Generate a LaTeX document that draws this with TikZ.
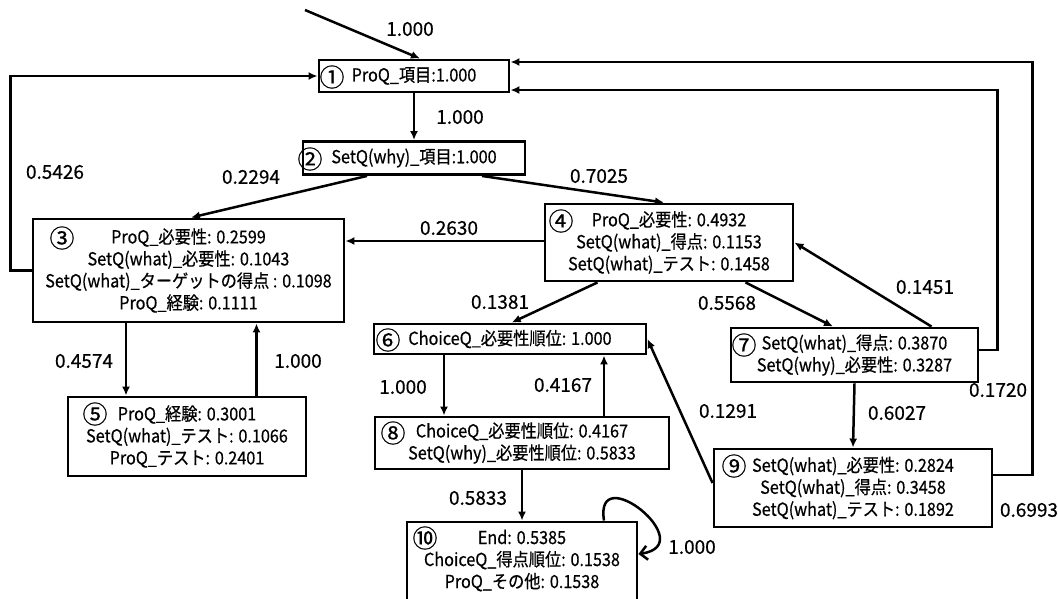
\documentclass[tikz,border=0pt]{standalone}
\usepackage{fontspec}
\setmainfont[FakeBold=0.5]{Noto Sans CJK JP}
\newfontfamily\bxf[FakeStretch=0.9,FakeBold=0.5]{Noto Sans CJK JP}
\usetikzlibrary{arrows.meta,calc}
\begin{document}
\begin{tikzpicture}[x=1pt,y=-1pt,
  box/.style={draw, line width=2.9pt, inner sep=0pt, align=center, font=\bxf\fontsize{18}{22}\selectfont},
  txt/.style={inner sep=0pt, align=center, font=\bxf\fontsize{18}{22}\selectfont},
  lbl/.style={inner sep=0pt, font=\fontsize{19}{22}\selectfont},
  num/.style={inner sep=0pt, font=\fontsize{25}{25}\selectfont},
  arr/.style={line width=2.5pt, -{Latex[length=9pt,width=8pt]}},
  selfarr/.style={line width=2.5pt, -{Straight Barb[length=7pt,width=14pt,line width=2.5pt]}}]
\useasboundingbox (0,0) rectangle (1058,598);
\fill[white] (0,0) rectangle (1058,598);

% boxes
\node[box, minimum width=190pt, minimum height=32pt] (n1) at (414,76) {ProQ\_項目:1.000};
\node[box, minimum width=222pt, minimum height=33pt] (n2) at (414,158) {SetQ(why)\_項目:1.000};
\node[box, minimum width=311pt, minimum height=103pt] (n3) at (188.5,270.5) {ProQ\_必要性: 0.2599\\SetQ(what)\_必要性: 0.1043\\SetQ(what)\_ターゲットの得点 : 0.1098\\ProQ\_経験: 0.1111};
\node[box, minimum width=248pt, minimum height=77pt] (n4) at (669,242.5) {ProQ\_必要性: 0.4932\\SetQ(what)\_得点: 0.1153\\SetQ(what)\_テスト: 0.1458};
\node[box, minimum width=238pt, minimum height=79pt] (n5) at (187,436.5) {ProQ\_経験: 0.3001\\SetQ(what)\_テスト: 0.1066\\ProQ\_テスト: 0.2401};
\node[box, minimum width=272pt, minimum height=30pt] (n6) at (510,339) {ChoiceQ\_必要性順位: 1.000};
\node[box, minimum width=247pt, minimum height=54pt] (n7) at (854.5,355) {SetQ(what)\_得点: 0.3870\\SetQ(why)\_必要性: 0.3287};
\node[box, minimum width=294pt, minimum height=52pt] (n8) at (522,443) {ChoiceQ\_必要性順位: 0.4167\\SetQ(why)\_必要性順位: 0.5833};
\node[box, minimum width=278pt, minimum height=78pt] (n9) at (853,488) {SetQ(what)\_必要性: 0.2824\\SetQ(what)\_得点: 0.3458\\SetQ(what)\_テスト: 0.1892};
\node[box, minimum width=230pt, minimum height=84pt] (n10) at (522,564) {};
\node[txt] (t10) at (522,560.5) {End: 0.5385\\ChoiceQ\_得点順位: 0.1538\\ProQ\_その他: 0.1538};

% circled numbers
\node[num] (c1) at (332,77) {①};
\node[num] (c2) at (310,159) {②};
\node[num] (c3) at (62,238) {③};
\node[num] (c4) at (561,221) {④};
\node[num] (c5) at (95,414) {⑤};
\node[num] (c6) at (388,340) {⑥};
\node[num] (c7) at (744,345) {⑦};
\node[num] (c8) at (393,433) {⑧};
\node[num] (c9) at (734,466) {⑨};
\node[num] (c10) at (425,538) {⑩};

% connectors
\coordinate (start) at (305,10);
\draw[arr] (start) -- ([xshift=6pt]n1.north);
\node[lbl] (l0) at (410,29) {1.000};

\draw[arr] (n1.south) -- (n2.north);
\node[lbl] (l12) at (460,117) {1.000};

\draw[arr] ([xshift=-47pt]n2.south) -- ([xshift=2.5pt]n3.north);
\node[lbl] (l23) at (251,177) {0.2294};

\draw[arr] ([xshift=68pt]n2.south) -- ([xshift=-5pt]n4.north);
\node[lbl] (l24) at (599,176) {0.7025};

\draw[arr] (n3.west) -- ++(-21,0) |- (n1.west);
\node[lbl] (l31) at (55,172) {0.5426};

\draw[arr] ([yshift=1.5pt]n4.west) -- ([yshift=1.5pt]n4.west -| n3.east);
\node[lbl] (l43) at (449,228) {0.2630};

\draw[arr] ([xshift=-71.5pt]n4.south) -- ([xshift=1.7pt]n6.north);
\node[lbl] (l46) at (500,302) {0.1381};

\draw[arr] ([xshift=76.5pt]n4.south) -- ([xshift=-21.5pt]n7.north);
\node[lbl] (l47) at (727,303) {0.5568};

\draw[arr] ([xshift=77pt]n7.north) -- (n4.east);
\node[lbl] (l74) at (925,287) {0.1451};

\draw[arr] ([yshift=5pt]n7.east) -- ++(18,0) |- ([yshift=-14pt]n1.east);
\node[lbl] (l71) at (998,390) {0.1720};

\draw[arr] ([yshift=13pt]n9.east) -- ++(39,0) |- ([yshift=14pt]n1.east);
\node[lbl] (l91) at (1029,510) {0.6993};

\draw[arr] (n7.south) -- (n9.north);
\node[lbl] (l79) at (897,413) {0.6027};

\draw[arr] ([yshift=5pt]n9.west) -- (n6.east);
\node[lbl] (l96) at (728,411) {0.1291};

\draw[arr] ([xshift=-66pt]n6.south) -- ([xshift=-66pt]n6.south |- n8.north);
\node[lbl] (l68) at (403,387) {1.000};

\draw[arr] ([xshift=82pt]n8.north) -- ([xshift=82pt]n8.north |- n6.south);
\node[lbl] (l86) at (563,385) {0.4167};

\draw[arr] (n8.south) -- (n10.north);
\node[lbl] (l810) at (478,498) {0.5833};

\draw[selfarr] ([xshift=82pt]n10.north) .. controls (594,458) and (702,545) .. ([yshift=10pt]n10.east);
\node[lbl] (l1010) at (692,547) {1.000};

\draw[arr] ([xshift=-62.5pt]n3.south) -- ([xshift=-62.5pt]n3.south |- n5.north);
\node[lbl] (l35) at (84,361) {0.4574};

\draw[arr] ([xshift=69.5pt]n5.north) -- ([xshift=69.5pt]n5.north |- n3.south);
\node[lbl] (l53) at (298,361) {1.000};
\end{tikzpicture}
\end{document}
